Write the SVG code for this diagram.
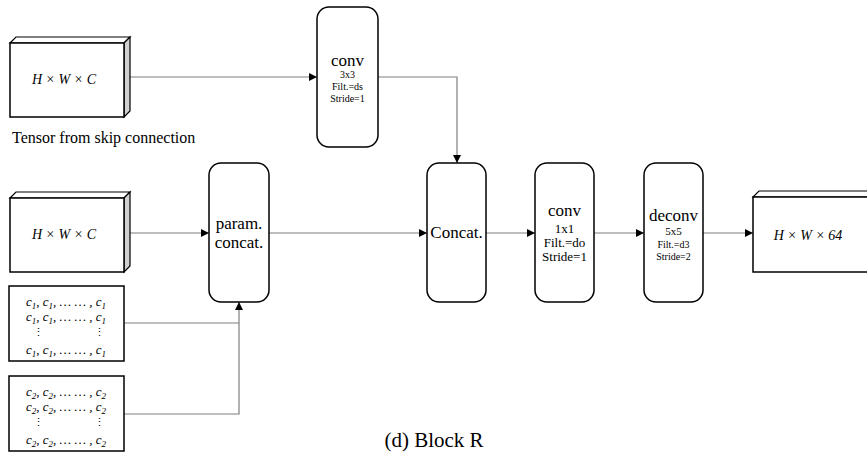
<svg xmlns="http://www.w3.org/2000/svg" width="867" height="452" viewBox="0 0 867 452">
<defs>
<marker id="arr" viewBox="0 0 10 10" refX="10" refY="5" markerWidth="8" markerHeight="8" markerUnits="userSpaceOnUse" orient="auto">
<path d="M0,0 L10,5 L0,10 z" fill="#000"/>
</marker>
<style>
.blk{fill:#fff;stroke:#000;stroke-width:1.5}
.side{fill:#d0d0d0;stroke:#000;stroke-width:1.2}
.top{fill:#fff;stroke:#000;stroke-width:1.2}
.ln{fill:none;stroke:#7f7f7f;stroke-width:1.2;marker-end:url(#arr)}
.ln2{fill:none;stroke:#7f7f7f;stroke-width:1.2}
</style>
</defs>

<g id="connectors">
<path class="ln" d="M130,77 H317"/>
<path class="ln" d="M378,77 H457 V163"/>
<path class="ln" d="M130,233 H209"/>
<path class="ln" d="M269,233 H427"/>
<path class="ln" d="M486,233 H535"/>
<path class="ln" d="M594,233 H644"/>
<path class="ln" d="M703,233 H753"/>
<path class="ln2" d="M124,323 H239"/>
<path class="ln" d="M124,414 H239 V302"/>
</g>

<g font-family="Liberation Serif, Times New Roman, serif" fill="#000">

<g id="tensor-skip">
<polygon class="top" points="10,43 16,37 130,37 124,43"/>
<polygon class="side" points="124,43 130,37 130,111 124,117"/>
<rect class="blk" x="10" y="43" width="114" height="74"/>
<text x="64" y="84" font-size="14" font-style="italic" text-anchor="middle">H × W × C</text>
</g>
<text x="12" y="143" font-size="16">Tensor from skip connection</text>

<g id="tensor-in">
<polygon class="top" points="10,198 16,192 130,192 124,198"/>
<polygon class="side" points="124,198 130,192 130,266 124,272"/>
<rect class="blk" x="10" y="198" width="114" height="74"/>
<text x="64" y="239" font-size="14" font-style="italic" text-anchor="middle">H × W × C</text>
</g>

<g id="c1" font-size="13" font-style="italic" text-anchor="middle">
<rect class="blk" x="9" y="286" width="115" height="75"/>
<text x="66" y="306">c<tspan font-size="9" dy="3">1</tspan><tspan dy="-3">, c</tspan><tspan font-size="9" dy="3">1</tspan><tspan dy="-3">, … … , c</tspan><tspan font-size="9" dy="3">1</tspan></text>
<text x="66" y="321">c<tspan font-size="9" dy="3">1</tspan><tspan dy="-3">, c</tspan><tspan font-size="9" dy="3">1</tspan><tspan dy="-3">, … … , c</tspan><tspan font-size="9" dy="3">1</tspan></text>
<text x="38" y="336" font-style="normal" font-size="11">⋮</text>
<text x="99" y="336" font-style="normal" font-size="11">⋮</text>
<text x="66" y="354">c<tspan font-size="9" dy="3">1</tspan><tspan dy="-3">, c</tspan><tspan font-size="9" dy="3">1</tspan><tspan dy="-3">, … … , c</tspan><tspan font-size="9" dy="3">1</tspan></text>
</g>

<g id="c2" font-size="13" font-style="italic" text-anchor="middle">
<rect class="blk" x="9" y="376" width="115" height="75"/>
<text x="66" y="396">c<tspan font-size="9" dy="3">2</tspan><tspan dy="-3">, c</tspan><tspan font-size="9" dy="3">2</tspan><tspan dy="-3">, … … , c</tspan><tspan font-size="9" dy="3">2</tspan></text>
<text x="66" y="411">c<tspan font-size="9" dy="3">2</tspan><tspan dy="-3">, c</tspan><tspan font-size="9" dy="3">2</tspan><tspan dy="-3">, … … , c</tspan><tspan font-size="9" dy="3">2</tspan></text>
<text x="38" y="426" font-style="normal" font-size="11">⋮</text>
<text x="99" y="426" font-style="normal" font-size="11">⋮</text>
<text x="66" y="444">c<tspan font-size="9" dy="3">2</tspan><tspan dy="-3">, c</tspan><tspan font-size="9" dy="3">2</tspan><tspan dy="-3">, … … , c</tspan><tspan font-size="9" dy="3">2</tspan></text>
</g>

<g id="conv3x3" text-anchor="middle">
<rect class="blk" x="317" y="7" width="61" height="140" rx="12"/>
<text x="347.5" y="66" font-size="17">conv</text>
<text x="347.5" y="78" font-size="10">3x3</text>
<text x="347.5" y="90" font-size="10">Filt.=ds</text>
<text x="347.5" y="102" font-size="10">Stride=1</text>
</g>

<g id="param-concat" text-anchor="middle">
<rect class="blk" x="209" y="163" width="60" height="139" rx="12"/>
<text x="239" y="229" font-size="17">param.</text>
<text x="239" y="248" font-size="17">concat.</text>
</g>

<g id="concat" text-anchor="middle">
<rect class="blk" x="427" y="163" width="59" height="139" rx="12"/>
<text x="456.5" y="238" font-size="17">Concat.</text>
</g>

<g id="conv1x1" text-anchor="middle">
<rect class="blk" x="535" y="163" width="59" height="139" rx="12"/>
<text x="564.5" y="216" font-size="17">conv</text>
<text x="564.5" y="233" font-size="13">1x1</text>
<text x="564.5" y="247" font-size="13">Filt.=do</text>
<text x="564.5" y="261" font-size="13">Stride=1</text>
</g>

<g id="deconv" text-anchor="middle">
<rect class="blk" x="644" y="163" width="59" height="139" rx="12"/>
<text x="673.5" y="221" font-size="17">deconv</text>
<text x="673.5" y="235" font-size="11">5x5</text>
<text x="673.5" y="248" font-size="10">Filt.=d3</text>
<text x="673.5" y="260" font-size="10">Stride=2</text>
</g>

<g id="output">
<polygon class="top" points="753,197 759,191 875,191 869,197"/>
<rect class="blk" x="753" y="197" width="116" height="75"/>
<text x="808" y="240" font-size="14" font-style="italic" text-anchor="middle">H × W × 64</text>
</g>

<text x="434" y="447" font-size="21" text-anchor="middle">(d) Block R</text>
</g>
</svg>
